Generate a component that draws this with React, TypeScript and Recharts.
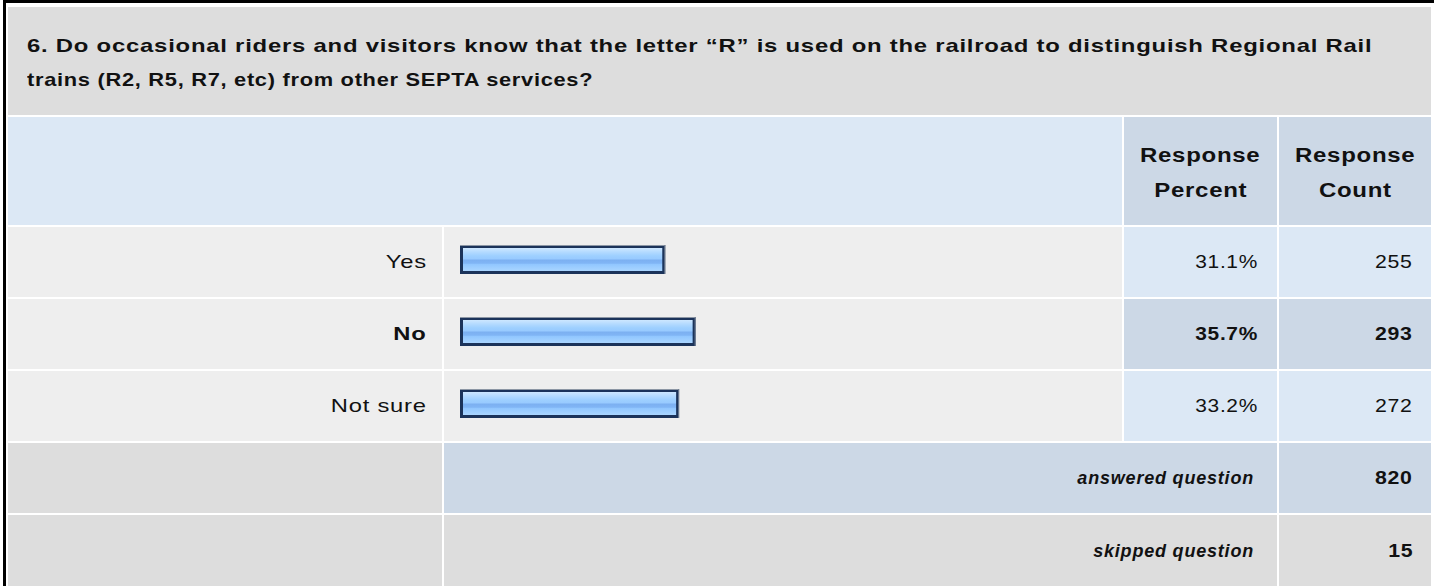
import React from "react"
import { BarChart, Bar, XAxis, YAxis } from "recharts"

// survey question 6 - answer options and results
const questionLines = [
  "6. Do occasional riders and visitors know that the letter \u201cR\u201d is used on the railroad to distinguish Regional Rail",
  "trains (R2, R5, R7, etc) from other SEPTA services?"
]
const answers = ["Yes", "No", "Not sure"]
const percents = [31.1, 35.7, 33.2]
const counts = [255, 293, 272]
const answeredTotal = 820
const skippedTotal = 15

const FONT = "'Liberation Sans', Arial, Helvetica, sans-serif"
const GRAY = "#dddddd"
const LIGHT = "#eeeeee"
const BLUE = "#dce8f5"
const DARK_BLUE = "#ccd8e6"

// column edges (cell spacing 2px)
const COL = { label: [8, 442], bar: [444, 1122], pct: [1124, 1277], count: [1279, 1431] }
const ROW_TOP = 227
const ROW_H = 70
const GAP = 2

const chartData = answers.map((a, i) => ({ name: a, percent: percents[i], count: counts[i] }))
const topIndex = counts.indexOf(Math.max(...counts))

// the screenshot text is a bit stretched horizontally
function Txt({ k = 1, origin = "right", children }: any) {
  return (
    <span style={{ display: "inline-block", whiteSpace: "nowrap", transform: `scaleX(${k})`, transformOrigin: origin }}>
      {children}
    </span>
  )
}

function Cell({ x0, x1, y, h, bg, children, align = "right", pad = 18, style }: any) {
  return (
    <div
      style={{
        position: "absolute",
        left: x0,
        top: y,
        width: x1 - x0,
        height: h,
        background: bg,
        display: "flex",
        flexDirection: "column",
        justifyContent: "center",
        alignItems: align === "right" ? "flex-end" : align === "center" ? "center" : "flex-start",
        paddingRight: align === "right" ? pad : 0,
        paddingLeft: align === "left" ? pad : 0,
        boxSizing: "border-box",
        color: "#111",
        ...style
      }}
    >
      {children}
    </div>
  )
}

const GlossyBar = (props: any) => {
  const { x, y, width, height } = props
  if (!width) return null
  return (
    <g>
      <rect x={x} y={y} width={width} height={height} fill="#1b335a" />
      <rect x={x + 3} y={y + 3} width={Math.max(width - 6, 0)} height={height - 6} fill="url(#gloss)" />
      <line x1={x} y1={y + 0.5} x2={x + width} y2={y + 0.5} stroke="#8c96a4" />
      <line x1={x + width - 0.5} y1={y} x2={x + width - 0.5} y2={y + height} stroke="#6f7d90" />
    </g>
  )
}

export default function App() {
  const rowY = (i: number) => ROW_TOP + i * (ROW_H + GAP)
  const labelStyle = { fontSize: 19, letterSpacing: 0.6 }
  const numStyle = { fontSize: 19, letterSpacing: 0.6 }
  const headStyle = { fontSize: 20, letterSpacing: 0.6, fontWeight: "bold", lineHeight: "35px", paddingTop: 4 }
  const totalStyle = { fontSize: 18, letterSpacing: 0.8, fontWeight: "bold", fontStyle: "italic" }
  const titleScale = [1.29, 1.18]
  return (
    <div
      style={{
        position: "absolute",
        left: 0,
        top: 0,
        width: 1434,
        height: 586,
        overflow: "hidden",
        background: "#fff",
        fontFamily: FONT
      }}
    >
      {/* outer black frame */}
      <div style={{ position: "absolute", left: 3, top: 0, width: 1431, height: 3, background: "#000" }} />
      <div style={{ position: "absolute", left: 3, top: 0, width: 3, height: 586, background: "#000" }} />

      {/* question title */}
      <Cell x0={8} x1={1431} y={7} h={108} bg={GRAY} align="left" pad={19}
        style={{ fontSize: 18.5, fontWeight: "bold", lineHeight: "34px", letterSpacing: 0.6, paddingTop: 4 }}>
        {questionLines.map((l, i) => (
          <Txt key={l} k={titleScale[i]} origin="left">{l}</Txt>
        ))}
      </Cell>

      {/* header */}
      <Cell x0={8} x1={COL.bar[1]} y={117} h={108} bg={BLUE} />
      <Cell x0={COL.pct[0]} x1={COL.pct[1]} y={117} h={108} bg={DARK_BLUE} align="center" style={headStyle}>
        <Txt k={1.2} origin="center">Response</Txt>
        <Txt k={1.2} origin="center">Percent</Txt>
      </Cell>
      <Cell x0={COL.count[0]} x1={COL.count[1]} y={117} h={108} bg={DARK_BLUE} align="center" style={headStyle}>
        <Txt k={1.2} origin="center">Response</Txt>
        <Txt k={1.2} origin="center">Count</Txt>
      </Cell>

      {/* answer rows */}
      {answers.map((a, i) => {
        const bold = i === topIndex
        const cellBg = bold ? DARK_BLUE : BLUE
        const weight = bold ? "bold" : "normal"
        return (
          <React.Fragment key={a}>
            <Cell x0={COL.label[0]} x1={COL.label[1]} y={rowY(i)} h={ROW_H} bg={LIGHT} pad={15}
              style={{ ...labelStyle, fontWeight: weight }}>
              <Txt k={1.25}>{a}</Txt>
            </Cell>
            <Cell x0={COL.bar[0]} x1={COL.bar[1]} y={rowY(i)} h={ROW_H} bg={LIGHT} />
            <Cell x0={COL.pct[0]} x1={COL.pct[1]} y={rowY(i)} h={ROW_H} bg={cellBg} pad={19}
              style={{ ...numStyle, fontWeight: weight }}>
              <Txt k={1.1}>{percents[i].toFixed(1)}%</Txt>
            </Cell>
            <Cell x0={COL.count[0]} x1={COL.count[1]} y={rowY(i)} h={ROW_H} bg={cellBg} pad={18}
              style={{ ...numStyle, fontWeight: weight }}>
              <Txt k={1.12}>{counts[i]}</Txt>
            </Cell>
          </React.Fragment>
        )
      })}

      {/* totals */}
      <Cell x0={COL.label[0]} x1={COL.label[1]} y={rowY(3)} h={ROW_H} bg={GRAY} />
      <Cell x0={COL.bar[0]} x1={COL.pct[1]} y={rowY(3)} h={ROW_H} bg={DARK_BLUE} pad={23} style={totalStyle}>
        <Txt>answered question</Txt>
      </Cell>
      <Cell x0={COL.count[0]} x1={COL.count[1]} y={rowY(3)} h={ROW_H} bg={DARK_BLUE} pad={18}
        style={{ ...numStyle, fontWeight: "bold" }}>
        <Txt k={1.12}>{answeredTotal}</Txt>
      </Cell>

      <Cell x0={COL.label[0]} x1={COL.label[1]} y={rowY(4)} h={ROW_H + 2} bg={GRAY} />
      <Cell x0={COL.bar[0]} x1={COL.pct[1]} y={rowY(4)} h={ROW_H + 2} bg={GRAY} pad={23} style={totalStyle}>
        <Txt>skipped question</Txt>
      </Cell>
      <Cell x0={COL.count[0]} x1={COL.count[1]} y={rowY(4)} h={ROW_H + 2} bg={GRAY} pad={18}
        style={{ ...numStyle, fontWeight: "bold" }}>
        <Txt k={1.12}>{skippedTotal}</Txt>
      </Cell>

      {/* bars */}
      <div style={{ position: "absolute", left: COL.bar[0], top: 223 }}>
        <BarChart
          width={COL.bar[1] - COL.bar[0]}
          height={216}
          data={chartData}
          layout="vertical"
          margin={{ top: 0, right: 2, bottom: 0, left: 16 }}
          barCategoryGap={0}
        >
          <defs>
            <linearGradient id="gloss" x1="0" y1="0" x2="0" y2="1">
              <stop offset="0%" stopColor="#cde7ff" />
              <stop offset="18%" stopColor="#b3daff" />
              <stop offset="35%" stopColor="#9dcfff" />
              <stop offset="48%" stopColor="#98caff" />
              <stop offset="52%" stopColor="#7cb0f1" />
              <stop offset="66%" stopColor="#80b5f5" />
              <stop offset="72%" stopColor="#92c7ff" />
              <stop offset="100%" stopColor="#a9d5ff" />
            </linearGradient>
          </defs>
          <XAxis type="number" domain={[0, 100]} hide />
          <YAxis type="category" dataKey="name" hide />
          <Bar dataKey="percent" barSize={29} shape={<GlossyBar />} isAnimationActive={false} />
        </BarChart>
      </div>
    </div>
  )
}
